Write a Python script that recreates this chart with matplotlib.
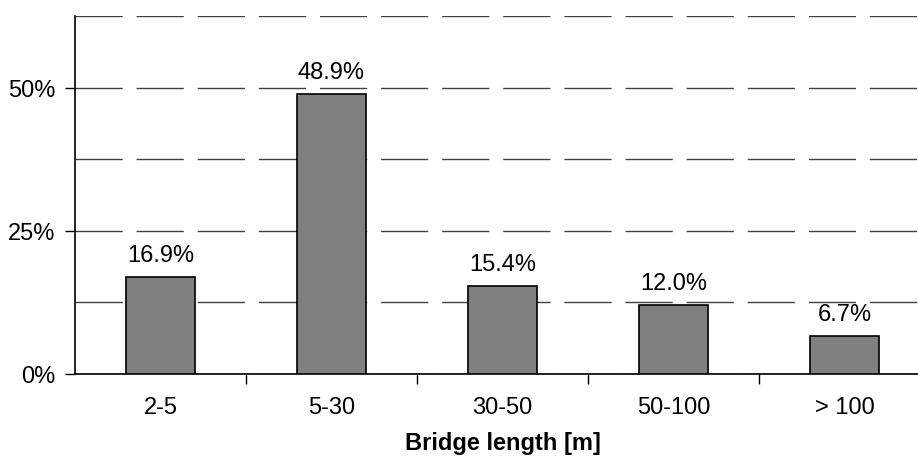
import matplotlib
matplotlib.use("Agg")
import matplotlib.pyplot as plt
from matplotlib.ticker import MultipleLocator, FuncFormatter

categories = ["2-5", "5-30", "30-50", "50-100", "> 100"]
shares = [16.9, 48.9, 15.4, 12.0, 6.7]
labels = ["16.9%", "48.9%", "15.4%", "12.0%", "6.7%"]

plt.rcParams["font.family"] = ["Liberation Sans", "DejaVu Sans"]
fs = 17

fig = plt.figure(figsize=(9.18, 4.6), dpi=100)
ax = fig.add_axes([75 / 918, 85 / 460, 1 - 75 / 918 + 12 / 918, (375 - 17) / 460])

x = range(len(categories))
ax.bar(x, shares, width=0.4, color="#808080", edgecolor="black", linewidth=1.2, zorder=3)
for xi, v, lab in zip(x, shares, labels):
    ax.text(xi, v + 2.8, lab, ha="center", va="baseline", fontsize=fs, zorder=4)

ax.set_xlim(-0.5, 4.5)
ax.set_ylim(0, 62.5)
ax.yaxis.set_major_locator(MultipleLocator(25))
ax.yaxis.set_minor_locator(MultipleLocator(12.5))
ax.yaxis.set_major_formatter(FuncFormatter(lambda v, p: f"{v:.0f}%"))
ax.grid(True, which="both", axis="y", color="#404040", linestyle=(0, (34, 10)), linewidth=1.0, zorder=0)
ax.tick_params(axis="y", which="minor", length=0)
ax.tick_params(axis="y", which="major", length=7, width=1, labelsize=fs, pad=7)

# category ticks sit between the bars
ax.set_xticks([i + 0.5 for i in range(len(categories) - 1)])
ax.set_xticklabels([])
ax.set_xticks(list(x), minor=True)
ax.set_xticklabels(categories, minor=True)
ax.tick_params(axis="x", which="major", length=7, width=1)
ax.tick_params(axis="x", which="minor", length=0, labelsize=fs, pad=16)

for s in ["top", "right"]:
    ax.spines[s].set_visible(False)
ax.spines["left"].set_linewidth(1.2)
ax.spines["bottom"].set_linewidth(1.2)

ax.set_xlabel("Bridge length [m]", fontsize=fs, fontweight="bold", labelpad=9)

fig.savefig("out.png", dpi=100)
